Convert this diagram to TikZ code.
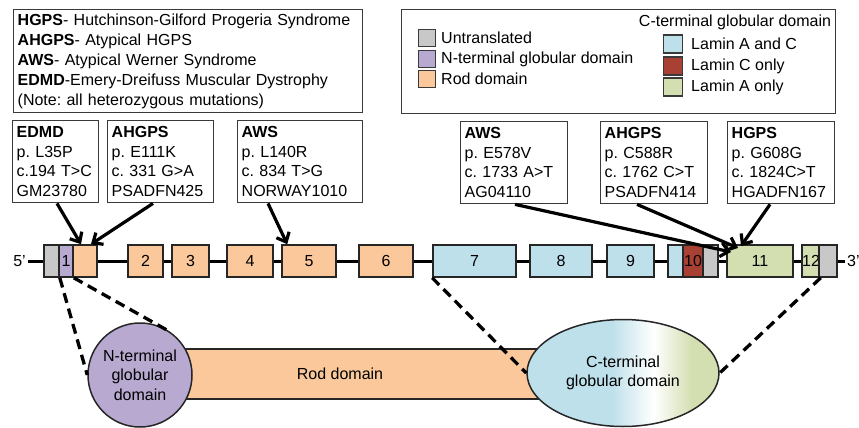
\documentclass[tikz,border=0pt]{standalone}
\usepackage{fontspec}
\setmainfont{Liberation Sans}
\usetikzlibrary{arrows.meta,calc,shapes.geometric}
\definecolor{cgrey}{HTML}{C8C8C8}
\definecolor{cpurple}{HTML}{B8A9D1}
\definecolor{corange}{HTML}{FAC89A}
\definecolor{cblue}{HTML}{BEE0EA}
\definecolor{cred}{HTML}{A94034}
\definecolor{cgreen}{HTML}{D3DFB0}
\definecolor{cborder}{HTML}{3A3A3A}
\pgfdeclarehorizontalshading{ctermshade}{100bp}{color(0bp)=(cblue); color(47bp)=(cblue); color(58bp)=(white); color(68bp)=(cgreen); color(100bp)=(cgreen)}
\frenchspacing
\begin{document}
\frenchspacing
\begin{tikzpicture}[x=1pt,y=-1pt,font=\fontsize{16}{19.5}\selectfont,
  txtbox/.style={draw=cborder, line width=1.4pt, anchor=north west, align=left, inner xsep=4pt, inner ysep=0pt},
  exon/.style={draw=black!85, line width=1.6pt, minimum height=32pt, inner sep=0pt},
  swatch/.style={draw=cborder, line width=1.7pt, minimum width=17pt, minimum height=17pt, inner sep=0pt},
  lbl/.style={anchor=west, inner sep=0pt},
  mutarrow/.style={line width=3.2pt, -{Straight Barb[length=8pt,width=14pt]}},
  zoomline/.style={line width=3.3pt, dash pattern=on 10pt off 6pt},
  geneline/.style={line width=3pt},
  protbox/.style={draw=black!85, line width=1.5pt, align=center, inner sep=0pt}]
\useasboundingbox (0,0) rectangle (859,428);

% legends
\node[txtbox, minimum width=349pt, minimum height=103pt, text width=341pt, font=\fontsize{16}{20}\selectfont] (legL) at (13,9)
 {\textbf{HGPS}- Hutchinson-Gilford Progeria Syndrome\\
  \textbf{AHGPS}- Atypical HGPS\\
  \textbf{AWS}- Atypical Werner Syndrome\\
  \textbf{EDMD}-Emery-Dreifuss Muscular Dystrophy\\
  (Note: all heterozygous mutations)};
\node[draw=cborder, line width=1.4pt, anchor=north west, minimum width=434pt, minimum height=104pt, inner sep=0pt] (legR) at (401,9) {};

\node[swatch, fill=cgrey] (sU) at (427,38) {};
\node[lbl] (tU) at (441,38) {Untranslated};
\node[swatch, fill=cpurple] (sN) at (427,59) {};
\node[lbl] (tN) at (441,59) {N-terminal globular domain};
\node[swatch, fill=corange] (sR) at (427,79) {};
\node[lbl] (tR) at (441,79) {Rod domain};
\node[anchor=center, inner sep=0pt] (tC) at (735,22) {C-terminal globular domain};
\node[swatch, fill=cblue, minimum width=19pt, minimum height=18pt] (sAC) at (673,44) {};
\node[lbl] (tAC) at (691,44) {Lamin A and C};
\node[swatch, fill=cred, minimum width=19pt, minimum height=18pt] (sCo) at (673,66) {};
\node[lbl] (tCo) at (691,66) {Lamin C only};
\node[swatch, fill=cgreen, minimum width=19pt, minimum height=18pt] (sAo) at (673,87) {};
\node[lbl] (tAo) at (691,87) {Lamin A only};

% mutation boxes
\node[txtbox, minimum width=86pt, minimum height=82pt, text width=78pt] (mEDMD) at (12,120) {\textbf{EDMD}\\p. L35P\\c.194 T>C\\GM23780};
\node[txtbox, minimum width=106pt, minimum height=82pt, text width=98pt] (mAH1) at (107,120) {\textbf{AHGPS}\\p. E111K\\c. 331 G>A\\PSADFN425};
\node[txtbox, minimum width=125pt, minimum height=82pt, text width=117pt] (mAW1) at (237,120) {\textbf{AWS}\\p. L140R\\c. 834 T>G\\NORWAY1010};
\node[txtbox, minimum width=107pt, minimum height=82pt, text width=99pt] (mAW2) at (460,121) {\textbf{AWS}\\p. E578V\\c. 1733 A>T\\AG04110};
\node[txtbox, minimum width=107pt, minimum height=82pt, text width=99pt] (mAH2) at (600,121) {\textbf{AHGPS}\\p. C588R\\c. 1762 C>T\\PSADFN414};
\node[txtbox, minimum width=107pt, minimum height=82pt, text width=99pt] (mHG) at (727,121) {\textbf{HGPS}\\p. G608G\\c. 1824C>T\\HGADFN167};

% gene
\coordinate (g5) at (28,261);
\coordinate (g3) at (845,261);
\draw[geneline] (g5) -- (g3);
\node[anchor=east, inner sep=0pt] (p5) at (26,261) {5’};
\node[anchor=west, inner sep=0pt] (p3) at (847,261) {3’};

\node[exon, fill=cgrey, minimum width=15pt] (u1) at (51.5,261) {};
\node[exon, fill=cpurple, minimum width=14pt] (n1) at (66,261) {1};
\node[exon, fill=corange, minimum width=24pt] (r1) at (85,261) {};
\node[exon, fill=corange, minimum width=35pt] (e2) at (145.5,261) {2};
\node[exon, fill=corange, minimum width=37pt] (e3) at (190.5,261) {3};
\node[exon, fill=corange, minimum width=46pt] (e4) at (250,261) {4};
\node[exon, fill=corange, minimum width=54pt] (e5) at (309,261) {5};
\node[exon, fill=corange, minimum width=54pt] (e6) at (386,261) {6};
\node[exon, fill=cblue, minimum width=83pt] (e7) at (474.5,261) {7};
\node[exon, fill=cblue, minimum width=62pt] (e8) at (561,261) {8};
\node[exon, fill=cblue, minimum width=47pt] (e9) at (630.5,261) {9};
\node[exon, fill=cblue, minimum width=15pt] (e10a) at (675.5,261) {};
\node[exon, fill=cred, minimum width=20pt] (e10b) at (693,261) {10};
\node[exon, fill=cgrey, minimum width=15pt] (e10c) at (710.5,261) {};
\node[exon, fill=cgreen, minimum width=66pt] (e11) at (760,261) {11};
\node[exon, fill=cgreen, minimum width=16pt] (e12a) at (811,261) {12};
\node[exon, fill=cgrey, minimum width=18pt] (e12b) at (828,261) {};

% arrows
\coordinate (tipA) at (731,252);
\coordinate (tipB) at (738,248);
\coordinate (tipC) at (741,246);
\draw[mutarrow] ([xshift=45pt]mEDMD.south west) -- ([xshift=-4pt]r1.north);
\draw[mutarrow] ([xshift=46pt]mAH1.south west) -- ([xshift=6pt]r1.north);
\draw[mutarrow] ([xshift=31pt]mAW1.south west) -- ([xshift=6pt]e5.north west);
\draw[mutarrow] ([xshift=55pt]mAW2.south west) -- (tipA);
\draw[mutarrow] ([xshift=37pt]mAH2.south west) -- (tipB);
\draw[mutarrow] ([xshift=43pt]mHG.south west) -- (tipC);

% protein
\node[protbox, fill=corange, minimum width=400pt, minimum height=50pt] (rod) at (340,374) {Rod domain};
\node[protbox, circle, fill=cpurple, minimum size=104pt] (ncirc) at (140,375) {N-terminal\\globular\\domain};
\node[protbox, ellipse, shade, shading=ctermshade, minimum width=192pt, minimum height=107pt] (cterm) at (623,373) {C-terminal\\globular domain};

% zoom lines
\draw[zoomline] (u1.south east) -- (ncirc.west);
\draw[zoomline] (n1.south east) -- (ncirc.54);
\draw[zoomline] (e7.south west) -- (cterm.west);
\draw[zoomline] (e12a.south east) -- (cterm.east);
\end{tikzpicture}
\end{document}
